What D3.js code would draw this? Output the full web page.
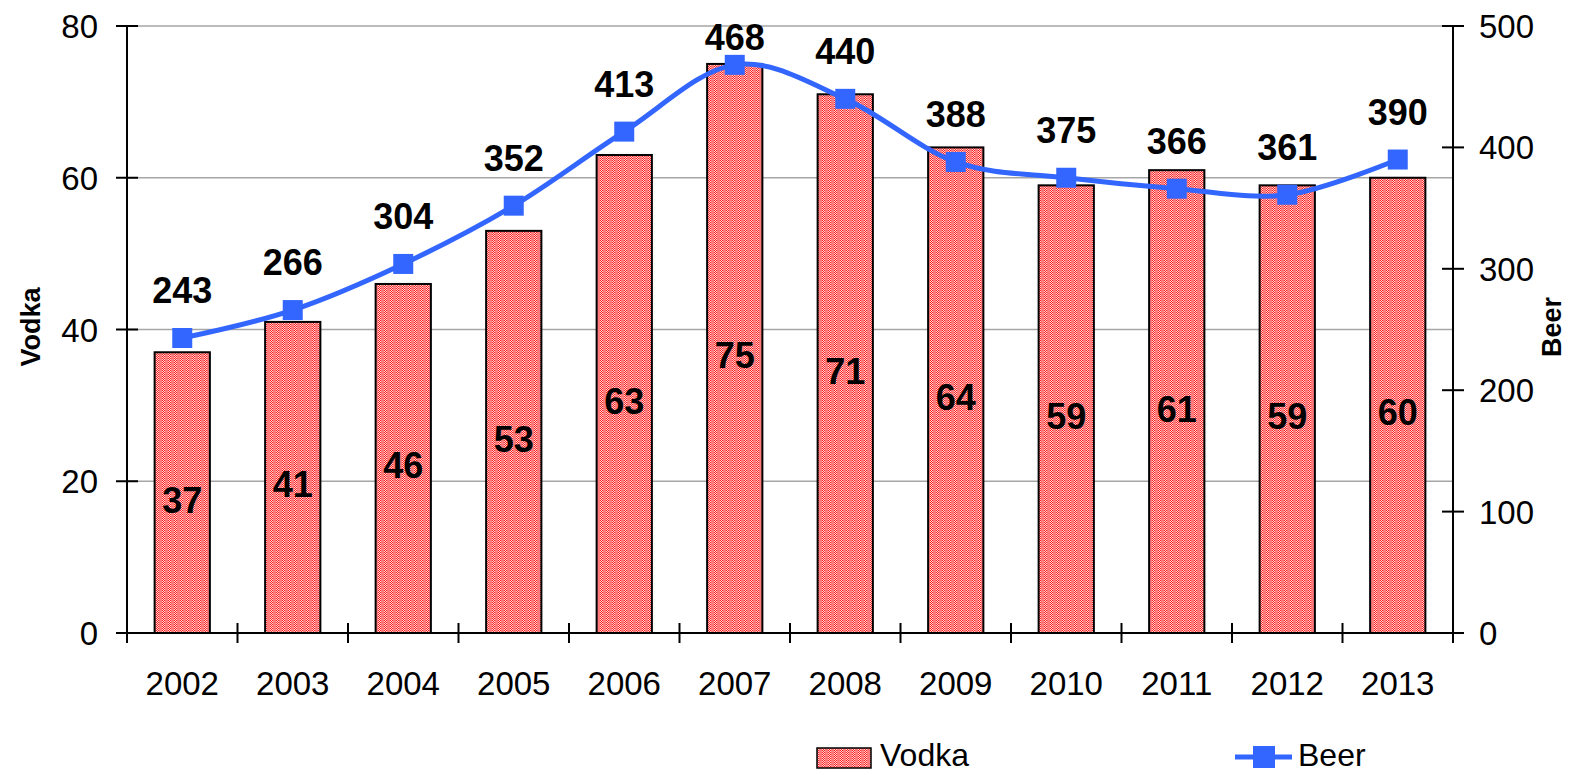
<!DOCTYPE html>
<html><head><meta charset="utf-8">
<script src="https://cdn.jsdelivr.net/npm/d3@7"></script>
<style>body{margin:0;background:#fff}svg{display:block;font-family:"Liberation Sans",Arial,sans-serif}</style>
</head><body>
<svg id="c" width="1585" height="775"></svg>
<script>
const years = ["2002","2003","2004","2005","2006","2007","2008","2009","2010","2011","2012","2013"];
const vodka = [37,41,46,53,63,75,71,64,59,61,59,60];
const beer = [243,266,304,352,413,468,440,388,375,366,361,390];
const leftTicks = [0,20,40,60,80];
const rightTicks = [0,100,200,300,400,500];

const svg = d3.select("#c");
const L = 127, R = 1453, T = 26, B = 633;
const x = d3.scaleBand().domain(years).range([L,R]).paddingInner(0.5).paddingOuter(0.25);
const xb = d3.scaleBand().domain(years).range([L,R]);
const yL = d3.scaleLinear().domain([0,80]).range([B,T]);
const yR = d3.scaleLinear().domain([0,500]).range([B,T]);

// pattern
const defs = svg.append("defs");
const pat = defs.append("pattern").attr("id","pv").attr("patternUnits","userSpaceOnUse").attr("width",6).attr("height",2);
pat.append("rect").attr("width",6).attr("height",2).attr("fill","#ff7a7a");
[[0,0],[2,0],[1,1]].forEach(([a,b])=>pat.append("rect").attr("x",a).attr("y",b).attr("width",1).attr("height",1).attr("fill","#ff1f1f"));
[[1,0],[0,1],[2,1]].forEach(([a,b])=>pat.append("rect").attr("x",a).attr("y",b).attr("width",1).attr("height",1).attr("fill","#ffd6d6"));

// gridlines
svg.append("g").selectAll("line").data(leftTicks.filter(d=>d>0)).join("line")
  .attr("x1",L).attr("x2",R).attr("y1",d=>yL(d)).attr("y2",d=>yL(d))
  .attr("stroke","#a6a6a6").attr("stroke-width",1.5);

// bars
svg.append("g").selectAll("rect").data(vodka).join("rect")
  .attr("x",(d,i)=>x(years[i])).attr("width",x.bandwidth())
  .attr("y",d=>yL(d)).attr("height",d=>B-yL(d))
  .attr("fill","url(#pv)").attr("stroke","#000").attr("stroke-width",2);

// axes
const ax = svg.append("g").attr("stroke","#000").attr("stroke-width",2);
ax.append("line").attr("x1",L).attr("x2",L).attr("y1",T).attr("y2",B);
ax.append("line").attr("x1",R).attr("x2",R).attr("y1",T).attr("y2",B);
ax.append("line").attr("x1",L).attr("x2",R).attr("y1",B).attr("y2",B);
ax.selectAll(".tl").data(leftTicks).join("line").attr("x1",L-11).attr("x2",L+11).attr("y1",d=>yL(d)).attr("y2",d=>yL(d));
ax.selectAll(".tr").data(rightTicks).join("line").attr("x1",R-11).attr("x2",R+11).attr("y1",d=>yR(d)).attr("y2",d=>yR(d));
const bounds = years.map(y=>xb(y)).concat([R]);
ax.selectAll(".tx").data(bounds).join("line").attr("x1",d=>d).attr("x2",d=>d).attr("y1",B-10).attr("y2",B+10);

const tl = svg.append("g").attr("font-size",33).attr("fill","#000");
tl.selectAll(".l").data(leftTicks).join("text").attr("x",98).attr("y",d=>yL(d)+12).attr("text-anchor","end").text(d=>d);
tl.selectAll(".r").data(rightTicks).join("text").attr("x",1479).attr("y",d=>yR(d)+12).attr("text-anchor","start").text(d=>d);
tl.selectAll(".x").data(years).join("text").attr("x",d=>xb(d)+xb.bandwidth()/2).attr("y",695).attr("text-anchor","middle").text(d=>d);

svg.append("text").attr("transform","translate(40,327) rotate(-90)").attr("text-anchor","middle")
  .attr("font-size",27).attr("font-weight","bold").text("Vodka");
svg.append("text").attr("transform","translate(1561,327) rotate(-90)").attr("text-anchor","middle")
  .attr("font-size",27).attr("font-weight","bold").text("Beer");

// bar labels
svg.append("g").selectAll("text").data(vodka).join("text")
  .attr("x",(d,i)=>x(years[i])+x.bandwidth()/2)
  .attr("y",d=>(yL(d)+B)/2+20)
  .attr("text-anchor","middle").attr("font-size",36).attr("font-weight","bold").text(d=>d);

// beer line
const cx = (d,i)=>xb(years[i])+xb.bandwidth()/2;
const line = d3.line().x(cx).y(d=>yR(d)).curve(d3.curveCardinal.tension(0));
svg.append("path").datum(beer).attr("d",line).attr("fill","none").attr("stroke","#3366ff").attr("stroke-width",5);
svg.append("g").selectAll("rect").data(beer).join("rect")
  .attr("x",(d,i)=>cx(d,i)-10).attr("y",d=>yR(d)-10).attr("width",20).attr("height",20).attr("fill","#3366ff");
svg.append("g").selectAll("text").data(beer).join("text")
  .attr("x",cx).attr("y",d=>Math.max(yR(d)-35, T+24))
  .attr("text-anchor","middle").attr("font-size",36).attr("font-weight","bold").text(d=>d);

// legend
svg.append("rect").attr("x",817).attr("y",748).attr("width",54).attr("height",20).attr("fill","url(#pv)").attr("stroke","#000").attr("stroke-width",1.5);
svg.append("text").attr("x",880).attr("y",766).attr("font-size",32).text("Vodka");
svg.append("line").attr("x1",1235).attr("x2",1292).attr("y1",757).attr("y2",757).attr("stroke","#3366ff").attr("stroke-width",5);
svg.append("rect").attr("x",1253).attr("y",746).attr("width",22).attr("height",22).attr("fill","#3366ff");
svg.append("text").attr("x",1298).attr("y",766).attr("font-size",32).text("Beer");
</script>
</body></html>
